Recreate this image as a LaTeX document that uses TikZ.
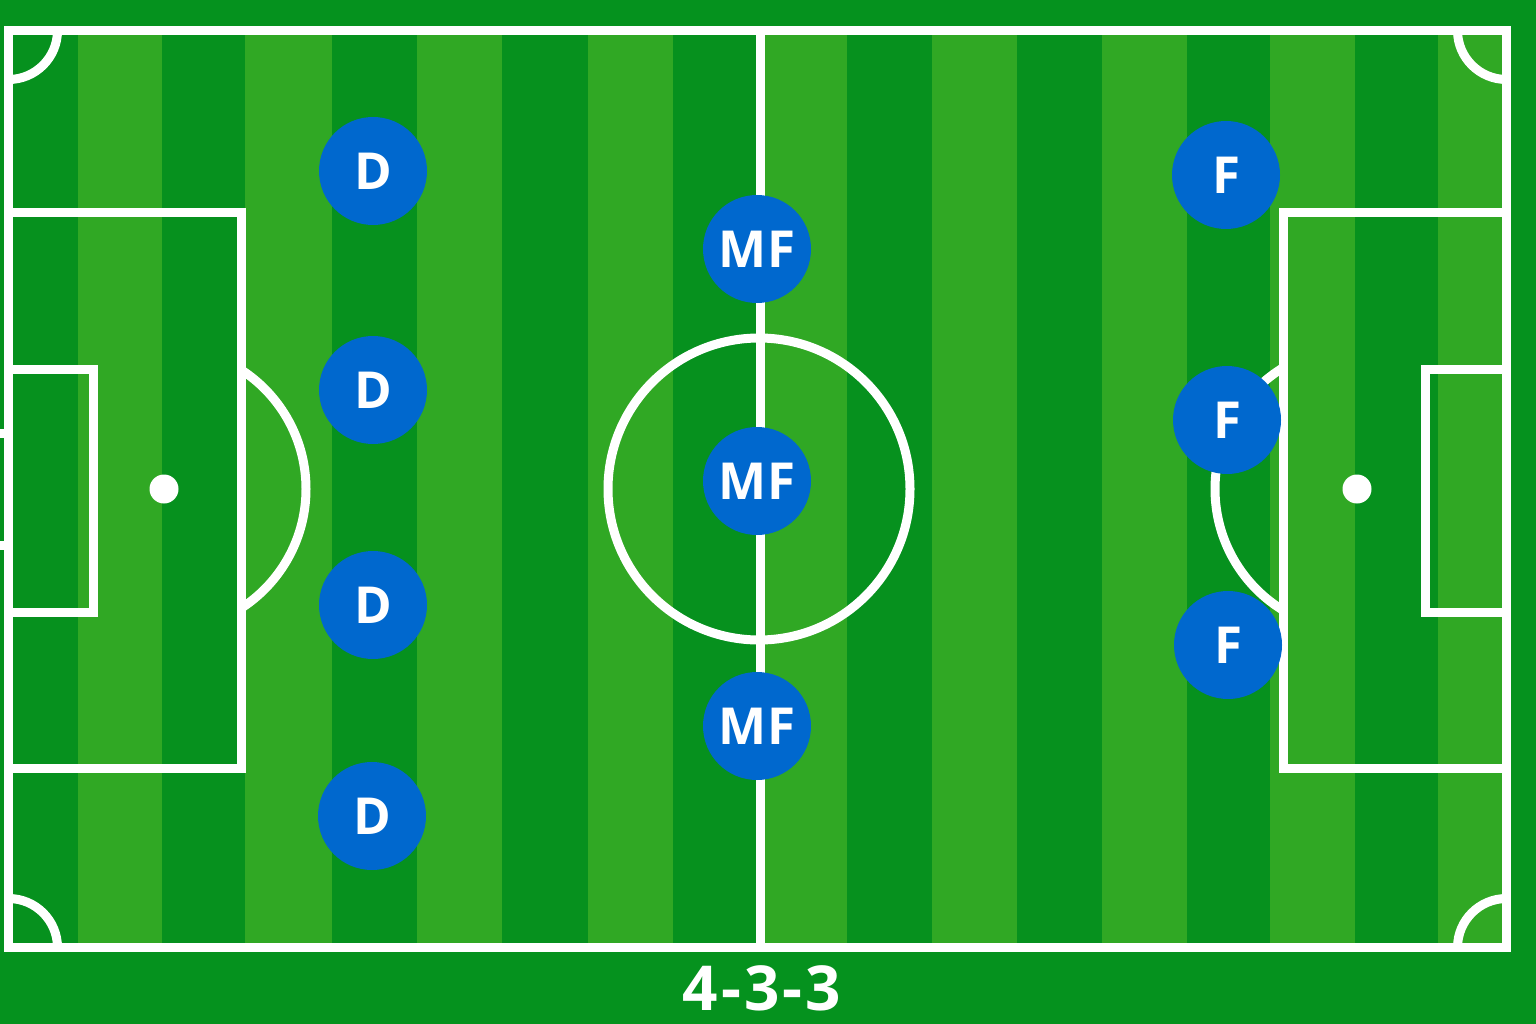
\documentclass[tikz,border=0pt]{standalone}
\usepackage{fontspec}
\setmainfont{Open Sans}
\definecolor{outergreen}{RGB}{5,146,30}
\definecolor{darkstripe}{RGB}{6,145,30}
\definecolor{lightstripe}{RGB}{48,168,36}
\definecolor{playerblue}{RGB}{0,104,206}
\tikzset{
  pitchline/.style={draw=white, line width=9pt},
  player/.style={circle, fill=playerblue, minimum size=108pt, inner sep=0pt,
    text=white, font=\fontsize{51}{51}\selectfont\bfseries},
  spot/.style={circle, fill=white, minimum size=29pt, inner sep=0pt},
}
\begin{document}
\begin{tikzpicture}[x=1pt,y=-1pt]
\useasboundingbox (0,0) rectangle (1536,1024);
\fill[outergreen] (0,0) rectangle (1536,1024);
% stripes
\fill[darkstripe] (8,30) rectangle (1506,948);
\foreach \a/\b in {78/162,245/332,417/502,588/673,760/847,932/1017,1102/1187,1270/1355,1438/1506}{
  \fill[lightstripe] (\a,30) rectangle (\b,948);
}
% outer lines
\draw[pitchline] (8.5,30.5) rectangle (1506.5,947.5);
\draw[pitchline] (760,30.5) -- (760,947.5);
% left goal
\draw[pitchline] (8.5,433) -- (-6,433) -- (-6,545) -- (8.5,545);
% penalty areas
\draw[pitchline] (8.5,213) -- (241,213) -- (241,768) -- (8.5,768);
\draw[pitchline] (1506.5,213) -- (1283,213) -- (1283,768) -- (1506.5,768);
% goal areas
\draw[pitchline] (8.5,369) -- (93,369) -- (93,612) -- (8.5,612);
\draw[pitchline] (1506.5,369) -- (1425,369) -- (1425,612) -- (1506.5,612);
% spots
\node[spot] (lspot) at (164,489) {};
\node[spot] (rspot) at (1357,489) {};
% penalty arcs
\begin{scope}
\clip (241,0) rectangle (760,1024);
\draw[pitchline] (164,489) circle[radius=142];
\end{scope}
\begin{scope}
\clip (760,0) rectangle (1283,1024);
\draw[pitchline] (1357,489) circle[radius=142];
\end{scope}
% centre circle
\draw[pitchline] (759,489) circle[radius=151];
% corner arcs
\begin{scope}
\clip (8.5,30.5) rectangle (1506.5,947.5);
\draw[pitchline] (8.5,30.5) circle[radius=49];
\draw[pitchline] (1506.5,30.5) circle[radius=49];
\draw[pitchline] (8.5,947.5) circle[radius=49];
\draw[pitchline] (1506.5,947.5) circle[radius=49];
\end{scope}
% players
\node[player] (d1) at (373,171) {D};
\node[player] (d2) at (373,390) {D};
\node[player] (d3) at (373,605) {D};
\node[player] (d4) at (372,816) {D};
\node[player] (m1) at (757,249) {MF};
\node[player] (m2) at (757,481) {MF};
\node[player] (m3) at (757,726) {MF};
\node[player] (f1) at (1226,175) {F};
\node[player] (f2) at (1227,420) {F};
\node[player] (f3) at (1228,645) {F};
% formation label
\node[text=white, font=\fontsize{62}{62}\selectfont\bfseries] (lbl) at (762,988) {4\kern3pt-\kern3pt3\kern3pt-\kern3pt3};
\end{tikzpicture}
\end{document}
